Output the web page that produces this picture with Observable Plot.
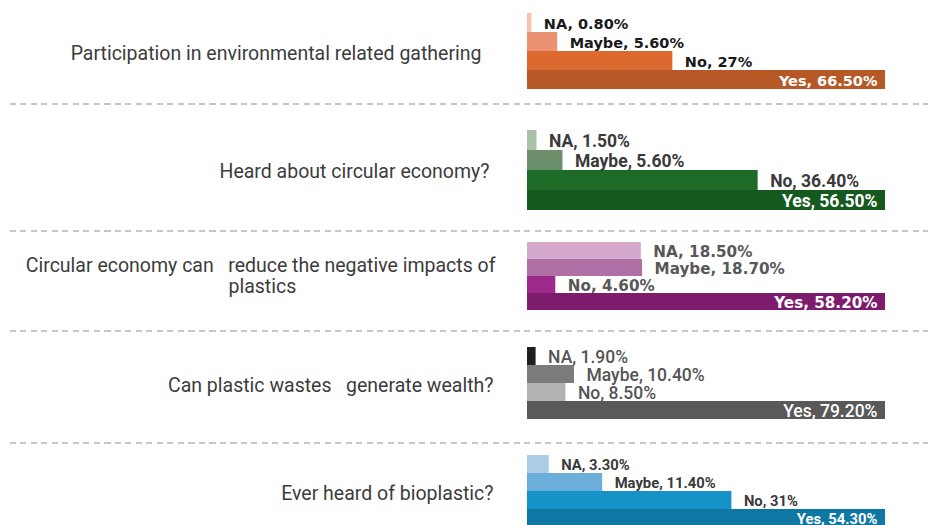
<!DOCTYPE html>
<html>
<head>
<meta charset="utf-8">
<script src="https://cdn.jsdelivr.net/npm/d3@7"></script>
<script src="https://cdn.jsdelivr.net/npm/@observablehq/plot@0.6"></script>
<style>
  html, body { margin: 0; padding: 0; background: #fff; overflow: hidden; }
  #chart { position: relative; width: 928px; height: 525px; overflow: hidden; }
  #chart .panel { position: absolute; left: 0; }
  #chart .panel svg { overflow: visible; }
  #chart .sep { position: absolute; left: 10px; right: 0; height: 2px;
    background: repeating-linear-gradient(to right, #c6c6c6 0 6px, transparent 6px 10.5px); }
</style>
</head>
<body>
<div id="chart"></div>
<script>
// ---- data ----
const questions = [
  "Participation in environmental related gathering",
  "Heard about circular economy?",
  "Circular economy can   reduce the negative impacts of\nplastics",
  "Can plastic wastes   generate wealth?",
  "Ever heard of bioplastic?"
];
const answers = ["NA", "Maybe", "No", "Yes"];
const participation = [0.8, 5.6, 27, 66.5];
const heardCircular = [1.5, 5.6, 36.4, 56.5];
const circularReduces = [18.5, 18.7, 4.6, 58.2];
const wastesWealth = [1.9, 10.4, 8.5, 79.2];
const heardBioplastic = [3.3, 11.4, 31, 54.3];
const seriesValues = [participation, heardCircular, circularReduces, wastesWealth, heardBioplastic];
const valueLabels = [
  ["0.80%", "5.60%", "27%", "66.50%"],
  ["1.50%", "5.60%", "36.40%", "56.50%"],
  ["18.50%", "18.70%", "4.60%", "58.20%"],
  ["1.90%", "10.40%", "8.50%", "79.20%"],
  ["3.30%", "11.40%", "31%", "54.30%"]
];

// ---- styles / layout ----
const palettes = [
  ["#f5c2ae", "#eb9273", "#dc6a2f", "#b65926"],
  ["#a9c0a9", "#6c8f6c", "#1e6b27", "#16591f"],
  ["#d4a9cd", "#b16fa7", "#9b2a8c", "#7d1c6d"],
  ["#1e1e1e", "#7b7b7b", "#b3b3b3", "#595959"],
  ["#abcde8", "#6aaed9", "#1592c8", "#0e77a4"]
];
const labelStyles = [
  {font: "DejaVu Sans", weight: "bold", size: 14.5, color: "#1a1a1a"},
  {font: "Roboto", weight: "bold", size: 17.5, color: "#3a3a3a"},
  {font: "DejaVu Sans", weight: "bold", size: 15.2, color: "#585858"},
  {font: "Roboto", weight: 500, size: 17.5, color: "#555555"},
  {font: "Roboto", weight: "bold", size: 14.8, color: "#3a3a3a"}
];
const layout = [
  {top: 12, height: 78, labelEnd: 481},
  {top: 128, height: 83, labelEnd: 489},
  {top: 240, height: 71, labelEnd: 495, line2Start: 228},
  {top: 346, height: 74, labelEnd: 493},
  {top: 454, height: 74, labelEnd: 493}
];
const separators = [104, 231, 331, 443];
const barLeft = 527, barRight = 885, W = 928;
const qFont = {fontFamily: "Roboto", fontSize: 19.5, fill: "#3c3c3c"};

const chart = document.getElementById("chart");

questions.forEach((q, gi) => {
  const vals = seriesValues[gi];
  const maxV = d3.max(vals);
  const rows = answers.map((a, i) => ({
    answer: a,
    value: vals[i],
    label: `${a}, ${valueLabels[gi][i]}`,
    color: palettes[gi][i],
    inside: vals[i] === maxV
  }));
  const st = labelStyles[gi];
  const L = layout[gi];
  const lines = q.split("\n");
  const qMarks = [
    Plot.text([lines[0]], {
      frameAnchor: "left", text: d => d, textAnchor: "end",
      dx: L.labelEnd - barLeft, dy: lines.length > 1 ? -10 : 2,
      ...qFont
    })
  ];
  if (lines.length > 1) {
    qMarks.push(Plot.text([lines[1]], {
      frameAnchor: "left", text: d => d, textAnchor: "start",
      dx: L.line2Start - barLeft, dy: 11,
      ...qFont
    }));
  }
  const svg = Plot.plot({
    width: W,
    height: L.height,
    marginLeft: barLeft,
    marginRight: W - barRight,
    marginTop: 0,
    marginBottom: 0,
    x: {axis: null},
    y: {axis: null, domain: answers, padding: 0},
    color: {type: "identity"},
    marks: [
      Plot.barX(rows, {x: "value", y: "answer", fill: "color"}),
      Plot.text(rows.filter(d => !d.inside), {
        x: "value", y: "answer", text: "label", textAnchor: "start", dx: 12, dy: 1,
        fill: st.color, fontFamily: st.font, fontWeight: st.weight, fontSize: st.size
      }),
      Plot.text(rows.filter(d => d.inside), {
        x: "value", y: "answer", text: "label", textAnchor: "end", dx: -8, dy: 1,
        fill: "white", fontFamily: st.font, fontWeight: st.weight, fontSize: st.size
      }),
      ...qMarks
    ]
  });
  const div = document.createElement("div");
  div.className = "panel";
  div.style.top = L.top + "px";
  div.appendChild(svg);
  chart.appendChild(div);
});

separators.forEach(y => {
  const s = document.createElement("div");
  s.className = "sep";
  s.style.top = (y - 1) + "px";
  chart.appendChild(s);
});
</script>
</body>
</html>
